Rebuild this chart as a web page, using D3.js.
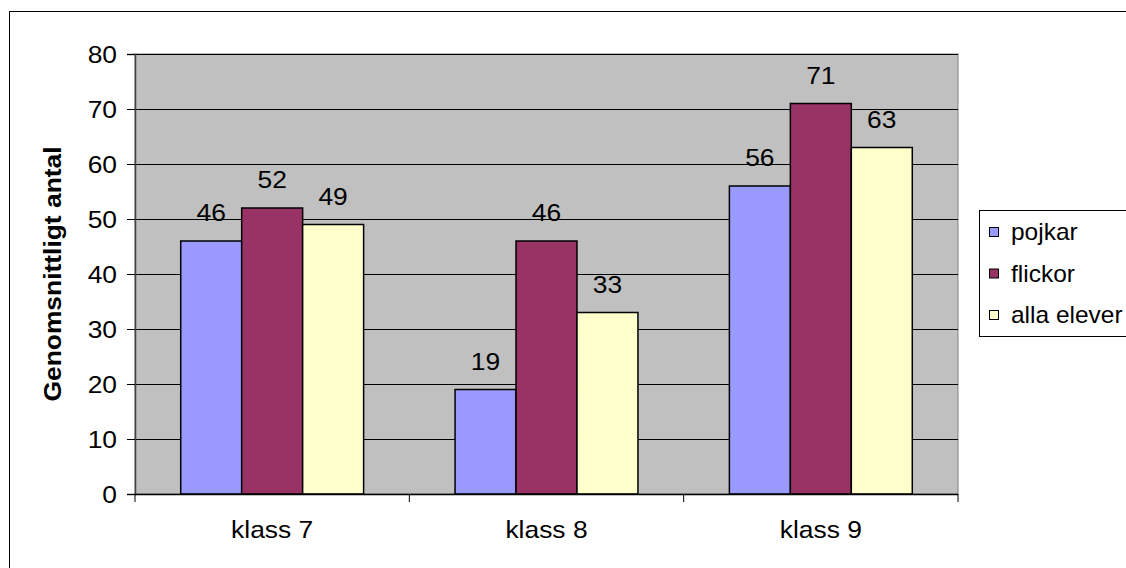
<!DOCTYPE html>
<html>
<head>
<meta charset="utf-8">
<script src="https://cdn.jsdelivr.net/npm/d3@7"></script>
<style>
  html, body { margin: 0; padding: 0; background: #fff; }
  svg { display: block; font-family: "Liberation Sans", Arial, sans-serif; }
</style>
</head>
<body>
<svg id="chart" width="1126" height="568"></svg>
<script>
// Average count per class and group
const categories = ["klass 7", "klass 8", "klass 9"];
const seriesNames = ["pojkar", "flickor", "alla elever"];
const pojkar = [46, 19, 56];
const flickor = [52, 46, 71];
const allaElever = [49, 33, 63];
const yTicks = [0, 10, 20, 30, 40, 50, 60, 70, 80];
const colors = ["#9999FF", "#993366", "#FFFFCC"];

const seriesValues = [pojkar, flickor, allaElever];

const FONT = 24;       // label font size
const STRETCH = 1.1;   // slightly wide glyphs

const svg = d3.select("#chart");
const plot = { left: 135, top: 54, right: 958, bottom: 494 };

// places a text at (x, y) with a horizontal stretch applied
function placeText(sel, fx, fy, rot, stretch = STRETCH) {
  sel.attr("x", 0).attr("y", 0)
    .attr("transform", (d, i) =>
      `translate(${fx(d, i)},${fy(d, i)})` + (rot ? ` rotate(${rot})` : "") + ` scale(${stretch},1)`);
  return sel;
}

// outer chart border
svg.append("rect")
  .attr("x", 9.5).attr("y", 11.5)
  .attr("width", 1200).attr("height", 600)
  .attr("fill", "#fff").attr("stroke", "#000").attr("stroke-width", 1);

const x = d3.scaleBand()
  .domain(categories)
  .range([plot.left, plot.right])
  .paddingInner(0).paddingOuter(0);

const y = d3.scaleLinear()
  .domain([0, 80])
  .range([plot.bottom, plot.top]);

// plot area background
svg.append("rect")
  .attr("x", plot.left).attr("y", plot.top)
  .attr("width", plot.right - plot.left)
  .attr("height", plot.bottom - plot.top)
  .attr("fill", "#C0C0C0")
  .attr("stroke", "#808080").attr("stroke-width", 1);

// gridlines
svg.append("g").selectAll("line")
  .data(yTicks.filter(t => t > 0))
  .join("line")
  .attr("x1", plot.left).attr("x2", plot.right)
  .attr("y1", d => Math.round(y(d)) + 0.5)
  .attr("y2", d => Math.round(y(d)) + 0.5)
  .attr("stroke", "#000").attr("stroke-width", 1);

// bars
const groupWidth = x.bandwidth();
const barW = groupWidth / 4.5;
const inner = d3.scaleBand()
  .domain(seriesNames)
  .range([0, barW * 3]);

const groups = svg.append("g").selectAll("g")
  .data(categories)
  .join("g")
  .attr("transform", (d) => `translate(${x(d) + (groupWidth - barW * 3) / 2},0)`);

const cells = (d, i) => seriesNames.map((s, j) => ({ s, j, v: seriesValues[j][i] }));

groups.selectAll("rect")
  .data(cells)
  .join("rect")
  .attr("x", d => inner(d.s))
  .attr("y", d => y(d.v))
  .attr("width", inner.bandwidth())
  .attr("height", d => y(0) - y(d.v))
  .attr("fill", d => colors[d.j])
  .attr("stroke", "#000").attr("stroke-width", 1.5);

// value labels above bars
placeText(
  groups.selectAll("text")
    .data(cells)
    .join("text")
    .attr("text-anchor", "middle")
    .attr("font-size", FONT)
    .attr("fill", "#000")
    .text(d => d.v),
  d => inner(d.s) + inner.bandwidth() / 2,
  d => y(d.v) - 20);

// y axis
const yAxis = d3.axisLeft(y).tickValues(yTicks).tickSize(8).tickPadding(10);
const gy = svg.append("g")
  .attr("transform", `translate(${plot.left},0)`)
  .call(yAxis);
gy.select(".domain").attr("stroke", "#404040").attr("stroke-width", 1.5);
gy.selectAll(".tick line").attr("stroke", "#000");
gy.selectAll(".tick text")
  .attr("font-size", FONT)
  .attr("font-family", "Liberation Sans, Arial, sans-serif")
  .attr("fill", "#000")
  .attr("dy", "0.35em")
  .attr("x", 0)
  .attr("transform", `translate(-18,0) scale(${STRETCH},1)`);

// x axis
const gx = svg.append("g")
  .attr("transform", `translate(0,${plot.bottom})`);
gx.append("line")
  .attr("x1", plot.left).attr("x2", plot.right)
  .attr("y1", 0.5).attr("y2", 0.5)
  .attr("stroke", "#000").attr("stroke-width", 1.5);
const boundaries = categories.map(c => x(c)).concat([plot.right]);
gx.selectAll(".tk")
  .data(boundaries)
  .join("line")
  .attr("class", "tk")
  .attr("x1", d => d).attr("x2", d => d)
  .attr("y1", 0).attr("y2", 8)
  .attr("stroke", "#000").attr("stroke-width", 1);
placeText(
  gx.selectAll(".lbl")
    .data(categories)
    .join("text")
    .attr("class", "lbl")
    .attr("text-anchor", "middle")
    .attr("font-size", FONT)
    .attr("fill", "#000")
    .text(d => d),
  d => x(d) + x.bandwidth() / 2,
  () => 44);

// y axis title
placeText(
  svg.append("text")
    .attr("text-anchor", "middle")
    .attr("font-size", FONT)
    .attr("font-weight", "bold")
    .attr("fill", "#000")
    .text("Genomsnittligt antal"),
  () => 61,
  () => (plot.top + plot.bottom) / 2,
  -90);

// legend
const lg = svg.append("g");
lg.append("rect")
  .attr("x", 979.5).attr("y", 210.5)
  .attr("width", 200).attr("height", 126)
  .attr("fill", "#fff").attr("stroke", "#000").attr("stroke-width", 1);
const items = lg.selectAll("g")
  .data(seriesNames)
  .join("g")
  .attr("transform", (d, i) => `translate(0,${232 + i * 41.5})`);
items.append("rect")
  .attr("x", 989.5).attr("y", -4.5)
  .attr("width", 9).attr("height", 9)
  .attr("fill", (d, i) => colors[i])
  .attr("stroke", "#000").attr("stroke-width", 1);
placeText(
  items.append("text")
    .attr("dy", "0.35em")
    .attr("font-size", FONT)
    .attr("fill", "#000")
    .text(d => d),
  () => 1011,
  () => 0,
  0,
  1.02);
</script>
</body>
</html>
